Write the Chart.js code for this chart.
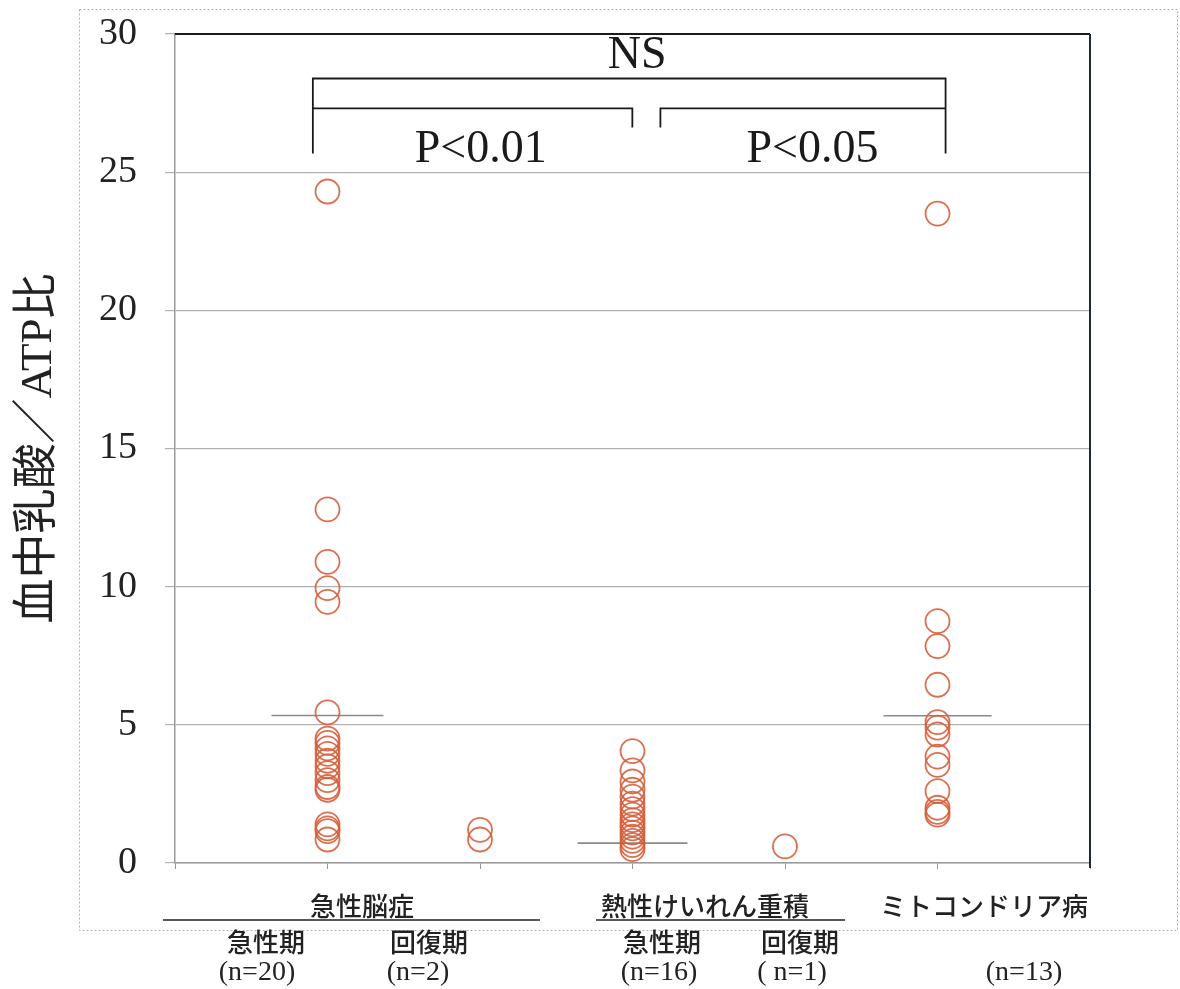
<!DOCTYPE html>
<html><head><meta charset="utf-8">
<script src="https://cdn.jsdelivr.net/npm/chart.js@4.4.0/dist/chart.umd.min.js"></script>
<style>html,body{margin:0;padding:0;background:#fff;}</style>
</head><body>
<canvas id="c" width="1180" height="989" style="display:block"></canvas>
<script>
// ---- data ----
const groupX = [1, 2, 3, 4, 5];
const encephAcute = [24.3, 12.8, 10.9, 9.95, 9.45, 5.45, 4.5, 4.35, 4.15, 3.95, 3.7, 3.5, 3.25, 3.0, 2.75, 2.65, 1.4, 1.25, 1.15, 0.85];
const encephRecovery = [1.2, 0.85];
const febrileAcute = [4.05, 3.35, 2.95, 2.65, 2.4, 2.15, 1.95, 1.75, 1.55, 1.4, 1.25, 1.1, 0.95, 0.8, 0.65, 0.5];
const febrileRecovery = [0.6];
const mitochondrial = [23.5, 8.75, 7.85, 6.45, 5.1, 4.9, 4.65, 3.85, 3.55, 2.6, 2.0, 1.85, 1.75];
const meanValues = [5.34, 0.72, 5.33];
const meanGroupX = [1, 3, 5];
const yTicks = [0, 5, 10, 15, 20, 25, 30];
const yTitle = '血中乳酸／ATP比';
const diseaseLabels = ['急性脳症', '熱性けいれん重積', 'ミトコンドリア病'];
const phaseLabels = ['急性期', '回復期', '急性期', '回復期'];
const countLabels = ['(n=20)', '(n=2)', '(n=16)', '( n=1)', '(n=13)'];
const statLabels = ['NS', 'P<0.01', 'P<0.05'];
const nsBracket = [[0.904, 25.68], [0.904, 28.39], [5.053, 28.39], [5.053, 25.68]];
const leftBracket = [[0.904, 27.31], [2.999, 27.31], [2.999, 26.62]];
const rightBracket = [[3.183, 26.62], [3.183, 27.31], [5.053, 27.31]];

const groups = [encephAcute, encephRecovery, febrileAcute, febrileRecovery, mitochondrial];
const meanHalfWidth = [0.367, 0.36, 0.354];

const circleColor = 'rgba(214,92,56,0.88)';
const datasets = [];
groups.forEach((vals, i) => {
  datasets.push({
    type: 'scatter',
    data: vals.map(v => ({x: groupX[i], y: v})),
    pointStyle: 'circle', pointRadius: 12, pointHoverRadius: 12,
    borderColor: circleColor, backgroundColor: 'rgba(0,0,0,0)', borderWidth: 1.8
  });
});
meanValues.forEach((m, i) => {
  datasets.push({
    type: 'line',
    data: [{x: meanGroupX[i] - meanHalfWidth[i], y: m}, {x: meanGroupX[i] + meanHalfWidth[i], y: m}],
    borderColor: '#8a8a8a', borderWidth: 1.6, pointRadius: 0, fill: false
  });
});
[nsBracket, leftBracket, rightBracket].forEach(b => {
  datasets.push({
    type: 'line',
    data: b.map(p => ({x: p[0], y: p[1]})),
    borderColor: '#1a1a1a', borderWidth: 1.8, pointRadius: 0, fill: false, tension: 0
  });
});

const decor = {
  id: 'decor',
  beforeDraw(chart) {
    const ctx = chart.ctx;
    ctx.save();
    ctx.fillStyle = '#fff';
    ctx.fillRect(0, 0, chart.width, chart.height);
    ctx.strokeStyle = '#b0b0b0';
    ctx.lineWidth = 1;
    ctx.setLineDash([2, 2]);
    ctx.strokeRect(79.5, 9.5, 1098, 921);
    ctx.restore();
  },
  afterDraw(chart) {
    const ctx = chart.ctx;
    const a = chart.chartArea;
    const xs = chart.scales.x, ys = chart.scales.y;
    ctx.save();
    // top and right borders
    ctx.strokeStyle = '#1a1a1a';
    ctx.lineWidth = 2;
    ctx.beginPath();
    ctx.moveTo(a.left, a.top); ctx.lineTo(a.right, a.top);
    ctx.stroke();
    ctx.strokeStyle = '#1c2a30';
    ctx.beginPath();
    ctx.moveTo(a.right, a.top); ctx.lineTo(a.right, a.bottom + 5);
    ctx.stroke();
    // stat labels
    ctx.fillStyle = '#1a1a1a';
    ctx.textAlign = 'center';
    ctx.textBaseline = 'middle';
    ctx.font = '46px "Liberation Serif"';
    ctx.fillText(statLabels[0], xs.getPixelForValue(3.03), ys.getPixelForValue(29.2));
    ctx.fillText(statLabels[1], xs.getPixelForValue(2.005), ys.getPixelForValue(25.8));
    ctx.fillText(statLabels[2], xs.getPixelForValue(4.18), ys.getPixelForValue(25.8));
    // category labels
    ctx.font = '500 26px "Noto Sans CJK JP"';
    ctx.fillStyle = '#222';
    ctx.fillText(diseaseLabels[0], 362, 906);
    ctx.fillText(diseaseLabels[1], 705, 906);
    ctx.fillText(diseaseLabels[2], 984, 906);
    ctx.strokeStyle = '#222';
    ctx.lineWidth = 1.6;
    ctx.beginPath();
    ctx.moveTo(163, 920); ctx.lineTo(540, 920);
    ctx.moveTo(596, 920); ctx.lineTo(845, 920);
    ctx.stroke();
    const phaseX = [266, 429, 662, 800];
    phaseLabels.forEach((t, i) => ctx.fillText(t, phaseX[i], 942));
    ctx.font = '28px "Liberation Serif"';
    const countX = [257, 418, 659, 792, 1024];
    countLabels.forEach((t, i) => ctx.fillText(t, countX[i], 973));
    ctx.restore();
  }
};

new Chart(document.getElementById('c'), {
  data: {datasets},
  options: {
    responsive: false, animation: false, devicePixelRatio: 1,
    layout: {padding: {top: 34, right: 90, left: 0, bottom: 0}},
    plugins: {legend: {display: false}, tooltip: {enabled: false}},
    scales: {
      x: {
        type: 'linear', min: 0, max: 6,
        ticks: {display: false, stepSize: 1},
        grid: {drawOnChartArea: false, drawTicks: true, tickLength: 6, color: '#999'},
        border: {color: '#9a9a9a', width: 1.5},
        afterFit(s) { s.height = 126; s.paddingLeft = 0; s.paddingRight = 0; }
      },
      y: {
        type: 'linear', min: 0, max: 30,
        afterBuildTicks(s) { s.ticks = yTicks.map(v => ({value: v})); },
        ticks: {font: {family: 'Liberation Serif', size: 38}, color: '#222', padding: 28},
        grid: {color: '#b0b0b0', lineWidth: 1.2, tickLength: 10},
        border: {color: '#9a9a9a', width: 1.5},
        title: {display: true, text: yTitle, color: '#222',
          font: {family: '"Liberation Serif", "Noto Sans CJK JP"', size: 45}, padding: {top: 12, bottom: 0}},
        afterFit(s) { s.width = 175; s.paddingTop = 0; s.paddingBottom = 0; }
      }
    }
  },
  plugins: [decor]
});
</script>
</body></html>
